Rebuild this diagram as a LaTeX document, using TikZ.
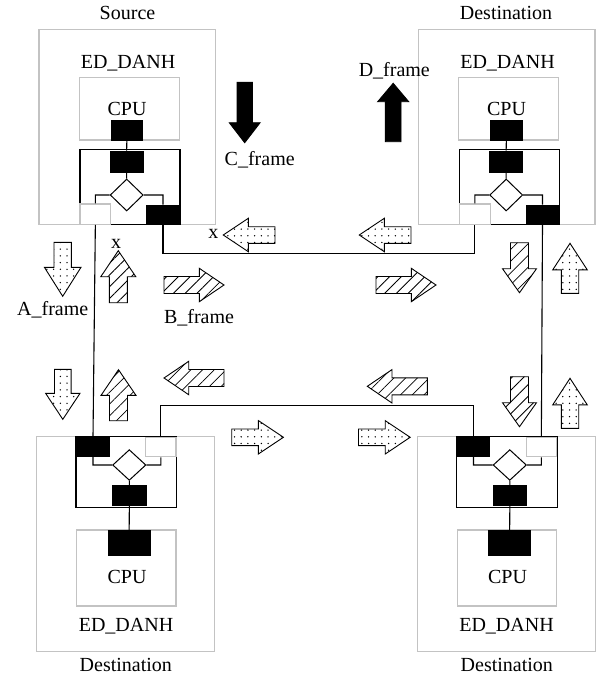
\documentclass[tikz,border=0pt]{standalone}
\usepackage{fontspec}
\setmainfont{Liberation Serif}
\usetikzlibrary{shapes.geometric,patterns.meta}
\definecolor{boxgray}{RGB}{195,195,195}
\tikzset{
 lab/.style={font=\fontsize{20}{23}\selectfont, inner sep=0, anchor=base},
 graybox/.style={draw=boxgray, line width=1.2pt, inner sep=0, rectangle},
 swbox/.style={draw=black, line width=1.1pt, inner sep=0, rectangle},
 blk/.style={draw=black, fill=black, inner sep=0, line width=0.8pt, rectangle},
 wport/.style={draw=boxgray, fill=white, inner sep=0, line width=1.2pt, rectangle},
 dia/.style={diamond, draw=black, fill=white, inner sep=0, line width=1pt, aspect=1},
 wire/.style={draw=black, line width=1.1pt},
 dotarr/.style={draw=black, line width=0.9pt, line join=miter, pattern={Dots[distance=6.7pt,radius=0.75pt]}},
 hatarr/.style={draw=black, line width=0.9pt, line join=miter, pattern={Lines[angle=45,distance=8.3pt,line width=0.8pt]}},
 blkarr/.style={draw=black, fill=black, line width=0.9pt},
}
% horizontal fat arrow: style, tail x, tail y, sign, length, head length, half head, half shaft
\newcommand{\harr}[8]{\draw[#1] (#2,#3-#8) -- ({#2+(#4)*(#5-#6)},#3-#8) -- ({#2+(#4)*(#5-#6)},#3-#7) -- ({#2+(#4)*(#5)},#3) -- ({#2+(#4)*(#5-#6)},#3+#7) -- ({#2+(#4)*(#5-#6)},#3+#8) -- (#2,#3+#8) -- cycle;}
% vertical fat arrow: style, tail x, tail y, sign (1 down, -1 up), length, head length, half head, half shaft
\newcommand{\varr}[8]{\draw[#1] (#2-#8,#3) -- (#2-#8,{#3+(#4)*(#5-#6)}) -- (#2-#7,{#3+(#4)*(#5-#6)}) -- (#2,{#3+(#4)*(#5)}) -- (#2+#7,{#3+(#4)*(#5-#6)}) -- (#2+#8,{#3+(#4)*(#5-#6)}) -- (#2+#8,#3) -- cycle;}
\newcommand{\topmodule}{
 \node[graybox, minimum width=176.5pt, minimum height=195pt] (outer) at (127.3,126.8) {};
 \node[graybox, minimum width=100pt, minimum height=62.7pt] (cpubox) at (129.3,108.65) {};
 \node[lab] (edt) at (128,68.3) {ED\_DANH};
 \node[lab] (cput) at (127,115) {CPU};
 \node[swbox, minimum width=100pt, minimum height=75pt] (sw) at (130,186.8) {};
 \node[blk, minimum width=31.7pt, minimum height=20pt] (cpur) at (126.85,130) {};
 \node[blk, minimum width=33.3pt, minimum height=21.7pt] (swr) at (126.65,161.85) {};
 \node[dia, minimum width=33pt, minimum height=32pt] (dm) at (126.7,195) {};
 \node[wport, minimum width=30.7pt, minimum height=20.3pt] (lport) at (95.35,214.15) {};
 \node[blk, minimum width=32.6pt, minimum height=19.3pt] (rport) at (163,214.65) {};
 \draw[wire] (cpur.south) -- (swr.north) (swr.south) -- (dm.north)
   (dm.west) -| (lport.north) (dm.east) -| (rport.north);
}
\newcommand{\botmodule}{
 \node[graybox, minimum width=178pt, minimum height=215pt] (outer) at (125.85,544.2) {};
 \node[graybox, minimum width=99.3pt, minimum height=76pt] (cpubox) at (126.35,568) {};
 \node[lab] (cput) at (127,583.3) {CPU};
 \node[lab] (edt) at (126,631.7) {ED\_DANH};
 \node[swbox, minimum width=100.7pt, minimum height=70.6pt] (sw) at (126.35,472) {};
 \node[blk, minimum width=32.6pt, minimum height=18.7pt] (lport) at (93,446.65) {};
 \node[wport, minimum width=30.3pt, minimum height=19.4pt] (rport) at (160.85,447) {};
 \node[dia, minimum width=33.3pt, minimum height=30.7pt] (dm) at (129.3,465) {};
 \node[blk, minimum width=33.3pt, minimum height=20pt] (swr) at (129.35,495.7) {};
 \node[blk, minimum width=41.7pt, minimum height=24.3pt] (cpur) at (129.15,542.85) {};
 \draw[wire] (cpur.north) -- (swr.south) (swr.north) -- (dm.south)
   (dm.west) -| (lport.south) (dm.east) -| (rport.south);
}
\begin{document}
\begin{tikzpicture}[x=1pt, y=-1pt]
\useasboundingbox (0,0) rectangle (596,678);
\begin{scope}[name prefix=tl-]\topmodule\end{scope}
\begin{scope}[xshift=379.5pt, name prefix=tr-]\topmodule\end{scope}
\begin{scope}[name prefix=bl-]\botmodule\end{scope}
\begin{scope}[xshift=380.5pt, name prefix=br-]\botmodule\end{scope}
% connectors
\draw[wire] (tl-lport.south) -- (bl-lport.north);
\draw[wire] (tl-rport.south) -- ++(0,29) -| (tr-lport.south);
\draw[wire] (tr-rport.south) -- (br-rport.north);
\draw[wire] (bl-rport.north) -- ++(0,-31.3) -| (br-lport.north);
% labels
\node[lab] (src) at (127.5,19.3) {Source};
\node[lab] (dst1) at (506,19.3) {Destination};
\node[lab] (dst2) at (125.8,671.7) {Destination};
\node[lab] (dst3) at (506.8,671.7) {Destination};
\node[lab] (cf) at (259.7,165.7) {C\_frame};
\node[lab] (df) at (394.3,76.7) {D\_frame};
\node[lab] (af) at (52.7,315) {A\_frame};
\node[lab] (bf) at (199,323.3) {B\_frame};
\node[lab] (x1) at (213.3,238.3) {x};
\node[lab] (x2) at (116,248.3) {x};
% black arrows
\varr{blkarr}{244.7}{82.3}{1}{60.4}{20}{15.4}{7.7}
\varr{blkarr}{393.2}{141.7}{-1}{58.4}{18.4}{15.5}{7.8}
% dotted horizontal arrows
\harr{dotarr}{275}{235}{-1}{51.7}{25}{16.7}{8.3}
\harr{dotarr}{411}{235}{-1}{51.7}{25}{16.7}{8.3}
\harr{dotarr}{231.7}{437.3}{1}{51.7}{25}{16.7}{8.3}
\harr{dotarr}{358.5}{437.3}{1}{51.7}{25}{16.7}{8.3}
% hatched horizontal arrows
\harr{hatarr}{164}{285}{1}{60}{24.7}{16.7}{8.5}
\harr{hatarr}{376}{285}{1}{60}{24.7}{16.7}{8.5}
\harr{hatarr}{224}{378}{-1}{60}{24.7}{16.7}{8.5}
\harr{hatarr}{427.3}{386.3}{-1}{60}{24.7}{16.7}{8.5}
% dotted vertical arrows
\varr{dotarr}{62.7}{242.3}{1}{54}{29}{18.3}{8.7}
\varr{dotarr}{62.8}{369.3}{1}{50}{26}{17.2}{8.3}
\varr{dotarr}{570}{293.3}{-1}{50}{26.6}{17.3}{8.7}
\varr{dotarr}{570}{428.3}{-1}{50}{26.6}{17.3}{8.7}
% hatched vertical arrows
\varr{hatarr}{118.3}{302.7}{-1}{52}{26}{17.5}{9}
\varr{hatarr}{118.5}{420.7}{-1}{51}{25.7}{17.5}{9}
\varr{hatarr}{519.5}{242.7}{1}{50}{24}{17}{9}
\varr{hatarr}{519.5}{376.7}{1}{50}{24}{17}{9}
\end{tikzpicture}
\end{document}
